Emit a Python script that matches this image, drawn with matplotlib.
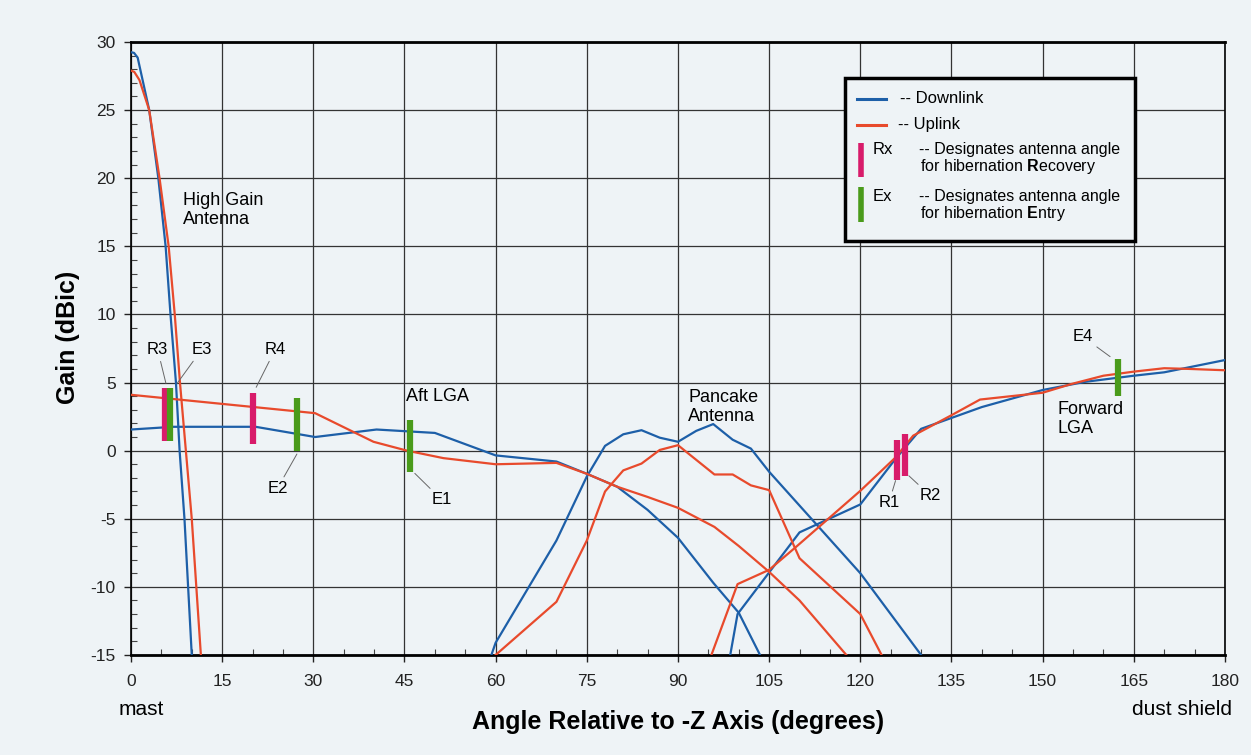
import matplotlib
matplotlib.use('Agg')
import matplotlib.pyplot as plt
from matplotlib.patches import Rectangle
from matplotlib.ticker import MultipleLocator

plt.rcParams['font.family'] = ['Liberation Sans', 'DejaVu Sans']
plt.rcParams['mathtext.fontset'] = 'custom'
plt.rcParams['mathtext.rm'] = 'Liberation Sans'
plt.rcParams['mathtext.bf'] = 'Liberation Sans:bold'
plt.rcParams['axes.unicode_minus'] = False

# --- gain curves (angle in deg, gain in dBic) ---
# high gain antenna
hga_x_dn = [0, 0.5, 1.1, 3.0, 4.5, 5.7, 6.5, 7.4, 8.0, 8.8, 10.0]
hga_y_dn = [29.25, 29.2, 28.85, 25.0, 20.0, 15.0, 10.0, 5.0, 0.0, -5.0, -15.0]
hga_x_up = [0, 0.55, 1.4, 3.0, 4.7, 6.2, 7.2, 8.06, 10.0, 11.5]
hga_y_up = [27.9, 27.8, 27.2, 25.0, 20.0, 15.0, 10.0, 5.0, -5.0, -15.0]

# aft low gain antenna
aft_x_dn = [0, 7, 20.5, 30.3, 40.4, 50, 60, 70, 75, 80, 85, 90, 95.8, 100, 103.5]
aft_y_dn = [1.55, 1.75, 1.75, 1.0, 1.55, 1.3, -0.35, -0.8, -1.7, -2.65, -4.35, -6.4, -9.7, -11.9, -15]
aft_x_up = [0, 30.3, 39.9, 45.4, 51.4, 60, 70, 75, 80, 85, 90, 96, 100, 105, 110, 117.7]
aft_y_up = [4.1, 2.75, 0.65, 0.0, -0.55, -1.0, -0.9, -1.7, -2.65, -3.4, -4.2, -5.6, -7.0, -8.9, -11.0, -15]

# pancake antenna
pan_x_dn = [59.3, 60, 70, 75, 78, 81, 84, 87, 90, 93, 95.8, 99, 102, 105, 120, 130]
pan_y_dn = [-15, -14.1, -6.6, -1.9, 0.35, 1.2, 1.5, 0.95, 0.65, 1.45, 1.95, 0.8, 0.15, -1.55, -9.0, -15]
pan_x_up = [60, 70, 75, 78, 81, 84, 87, 90, 96, 99, 102, 105, 110, 120, 123.5]
pan_y_up = [-15, -11.1, -6.6, -3.0, -1.45, -0.95, 0.05, 0.4, -1.75, -1.75, -2.55, -2.9, -7.9, -12.0, -15]

# forward low gain antenna
fwd_x_dn = [98.6, 99.8, 110, 120, 125.8, 130, 140, 150, 157, 165, 170, 180]
fwd_y_dn = [-15, -12.0, -6.0, -3.95, -0.6, 1.6, 3.2, 4.45, 5.05, 5.5, 5.75, 6.65]
fwd_x_up = [95.5, 99.8, 105, 109.6, 120, 125.8, 128.7, 135, 139.7, 150, 154.8, 160, 165, 170, 174, 180]
fwd_y_up = [-15, -9.8, -8.75, -7.0, -2.95, -0.5, 1.1, 2.6, 3.75, 4.25, 4.9, 5.5, 5.8, 6.05, 6.0, 5.9]

# hibernation recovery (R) / entry (E) angle markers
mark_names = ['R3', 'E3', 'R4', 'E2', 'E1', 'R1', 'R2', 'E4']
mark_x = [5.55, 6.5, 20.0, 27.3, 45.9, 126.1, 127.3, 162.4]
mark_lo = [0.74, 0.74, 0.49, 0.0, -1.54, -2.14, -1.85, 4.01]
mark_hi = [4.58, 4.58, 4.26, 3.85, 2.25, 0.81, 1.23, 6.72]

# marker labels: text position and end of the leader line
lab_tx = [4.4, 11.6, 23.7, 24.1, 51.1, 124.7, 131.5, 156.6]
lab_ty = [7.4, 7.4, 7.4, -2.77, -3.6, -3.82, -3.3, 8.37]
lab_px = [5.75, 7.6, 20.6, 27.3, 46.7, 125.8, 128.0, 161.1]
lab_py = [4.94, 4.94, 4.65, -0.25, -1.67, -2.2, -1.85, 6.9]

BLUE = '#1d5fa8'
RED = '#e84a2c'
PINK = '#d81b6a'
GREEN = '#4a9b1b'
BG = '#eef3f6'

fig = plt.figure(figsize=(12.51, 7.55), dpi=100, facecolor=BG)
ax = fig.add_axes([0.1047, 0.1325, 0.8745, 0.8119], facecolor=BG)

for xs, ys in [(hga_x_dn, hga_y_dn), (aft_x_dn, aft_y_dn), (pan_x_dn, pan_y_dn), (fwd_x_dn, fwd_y_dn)]:
    ax.plot(xs, ys, color=BLUE, lw=1.6, zorder=3)
for xs, ys in [(hga_x_up, hga_y_up), (aft_x_up, aft_y_up), (pan_x_up, pan_y_up), (fwd_x_up, fwd_y_up)]:
    ax.plot(xs, ys, color=RED, lw=1.6, zorder=3)

for name, x, lo, hi in zip(mark_names, mark_x, mark_lo, mark_hi):
    c = PINK if name.startswith('R') else GREEN
    ax.plot([x, x], [lo, hi], color=c, lw=4.5, solid_capstyle='butt', zorder=4)

for name, tx, ty, px, py in zip(mark_names, lab_tx, lab_ty, lab_px, lab_py):
    ax.annotate(name, xy=(px, py), xytext=(tx, ty), ha='center', va='center', fontsize=12,
                arrowprops=dict(arrowstyle='-', color='#666666', lw=0.7, shrinkA=1, shrinkB=0))

# antenna names
ax.text(8.6, 17.7, 'High Gain\nAntenna', fontsize=13, ha='left', va='center', linespacing=1.15)
ax.text(45.3, 4.0, 'Aft LGA', fontsize=13, ha='left', va='center')
ax.text(91.7, 3.2, 'Pancake\nAntenna', fontsize=13, ha='left', va='center', linespacing=1.15)
ax.text(152.4, 2.29, 'Forward\nLGA', fontsize=13, ha='left', va='center', linespacing=1.15)

ax.set_xlim(0, 180)
ax.set_ylim(-15, 30)
ax.xaxis.set_major_locator(MultipleLocator(15))
ax.xaxis.set_minor_locator(MultipleLocator(5))
ax.yaxis.set_major_locator(MultipleLocator(5))
ax.yaxis.set_minor_locator(MultipleLocator(1))
ax.grid(which='major', color='#333333', lw=0.9, zorder=1)
ax.tick_params(which='major', direction='out', length=5, width=1, labelsize=12.5, colors='#222222')
ax.tick_params(axis='x', which='major', pad=9)
ax.tick_params(axis='y', which='major', pad=6)
ax.tick_params(which='minor', direction='in', length=4, width=0.8, color='#444444')
for s in ['top', 'bottom']:
    ax.spines[s].set_linewidth(2)
for s in ['left', 'right']:
    ax.spines[s].set_linewidth(1.2)

ax.set_xlabel('Angle Relative to -Z Axis (degrees)', fontsize=18, fontweight='bold')
ax.xaxis.label.set_va('center')
ax.xaxis.set_label_coords(0.5, -0.1093)
ax.set_ylabel('Gain (dBic)', fontsize=18, fontweight='bold')
ax.yaxis.label.set_va('center')
ax.yaxis.set_label_coords(-0.0576, 0.5188)

ax.text(-0.011, -0.0897, 'mast', transform=ax.transAxes, fontsize=15, ha='left', va='center')
ax.text(1.0064, -0.0897, 'dust shield', transform=ax.transAxes, fontsize=15, ha='right', va='center')

# legend box drawn by hand
tr = ax.transAxes
ax.add_patch(Rectangle((0.6527, 0.6759), 0.265, 0.2649, transform=tr, facecolor=BG,
                       edgecolor='black', lw=2.5, zorder=6))
ax.plot([0.6636, 0.6901], [0.907, 0.907], color=BLUE, lw=2.2, transform=tr, zorder=7)
ax.text(0.7029, 0.907, '-- Downlink', transform=tr, fontsize=12, va='center', zorder=7)
ax.plot([0.6636, 0.6901], [0.8646, 0.8646], color=RED, lw=2.2, transform=tr, zorder=7)
ax.text(0.701, 0.8646, '-- Uplink', transform=tr, fontsize=12, va='center', zorder=7)
ax.plot([0.667, 0.667], [0.779, 0.8347], color=PINK, lw=4, solid_capstyle='butt', transform=tr, zorder=7)
ax.text(0.678, 0.8238, 'Rx', transform=tr, fontsize=12, va='center', zorder=7)
ax.text(0.7203, 0.8238, '-- Designates antenna angle', transform=tr, fontsize=11.5, va='center', zorder=7)
ax.text(0.7212, 0.7966, r'for hibernation $\mathbf{R}$ecovery', transform=tr, fontsize=11.5, va='center', zorder=7)
ax.plot([0.667, 0.667], [0.7069, 0.764], color=GREEN, lw=4, solid_capstyle='butt', transform=tr, zorder=7)
ax.text(0.678, 0.7477, 'Ex', transform=tr, fontsize=12, va='center', zorder=7)
ax.text(0.7203, 0.7477, '-- Designates antenna angle', transform=tr, fontsize=11.5, va='center', zorder=7)
ax.text(0.7212, 0.7206, r'for hibernation $\mathbf{E}$ntry', transform=tr, fontsize=11.5, va='center', zorder=7)

fig.savefig('out.png', dpi=100, facecolor=BG)
